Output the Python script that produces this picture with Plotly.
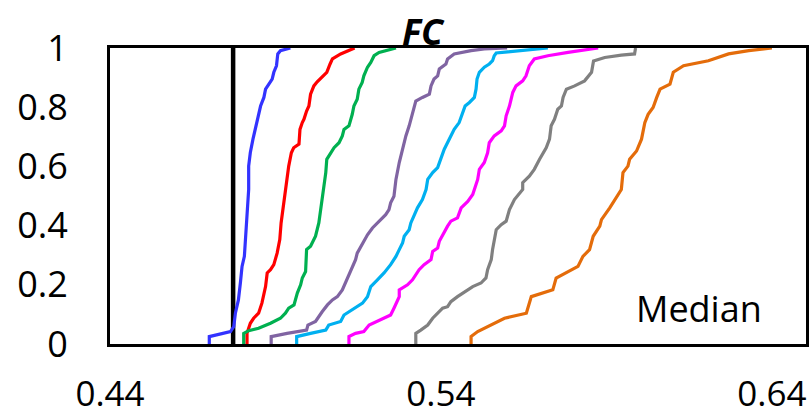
import plotly.graph_objects as go

# ---------------- data ----------------
blue_x = [0.4700, 0.4700, 0.4764, 0.4774, 0.4779, 0.4788, 0.4794, 0.4799, 0.4806, 0.4809,
          0.4814, 0.4819, 0.4819, 0.4824, 0.4832, 0.4839, 0.4846, 0.4855, 0.4865, 0.4870,
          0.4880, 0.4890, 0.4895, 0.4903, 0.4907, 0.4915, 0.4945]
blue_y = [0.000, 0.025, 0.042, 0.059, 0.105, 0.149, 0.207, 0.262, 0.296, 0.353,
          0.432, 0.522, 0.601, 0.647, 0.692, 0.725, 0.759, 0.804, 0.833, 0.861,
          0.878, 0.895, 0.918, 0.940, 0.980, 0.991, 1.000]

red_x = [0.4814, 0.4814, 0.4824, 0.4834, 0.4849, 0.4859, 0.4870, 0.4875, 0.4885, 0.4895,
         0.4905, 0.4913, 0.4917, 0.4923, 0.4930, 0.4933, 0.4940, 0.4948, 0.4955, 0.4971,
         0.4974, 0.4981, 0.4986, 0.4994, 0.5001, 0.5006, 0.5016, 0.5026, 0.5041, 0.5055,
         0.5065, 0.5072, 0.5097, 0.5122, 0.5139]
red_y = [0.000, 0.036, 0.070, 0.087, 0.104, 0.138, 0.194, 0.240, 0.251, 0.268,
         0.307, 0.353, 0.409, 0.465, 0.522, 0.556, 0.601, 0.646, 0.663, 0.675,
         0.725, 0.748, 0.759, 0.787, 0.804, 0.844, 0.872, 0.886, 0.901, 0.918,
         0.946, 0.963, 0.980, 0.991, 1.000]

green_x = [0.4804, 0.4804, 0.4819, 0.4849, 0.4885, 0.4915, 0.4930, 0.4940, 0.4956, 0.4966,
           0.4976, 0.4981, 0.4991, 0.4994, 0.5006, 0.5021, 0.5031, 0.5038, 0.5044, 0.5052,
           0.5055, 0.5067, 0.5077, 0.5092, 0.5102, 0.5107, 0.5122, 0.5132, 0.5137, 0.5147,
           0.5152, 0.5162, 0.5167, 0.5178, 0.5188, 0.5198, 0.5213, 0.5264]
green_y = [0.000, 0.036, 0.045, 0.053, 0.070, 0.087, 0.104, 0.121, 0.132, 0.172,
           0.200, 0.223, 0.245, 0.319, 0.330, 0.364, 0.409, 0.465, 0.522, 0.579,
           0.624, 0.646, 0.663, 0.680, 0.703, 0.725, 0.737, 0.776, 0.804, 0.827,
           0.861, 0.884, 0.906, 0.935, 0.951, 0.974, 0.985, 1.000]

purple_x = [0.4887, 0.4887, 0.4935, 0.4994, 0.4998, 0.5021, 0.5041, 0.5057, 0.5072, 0.5087,
            0.5102, 0.5122, 0.5132, 0.5142, 0.5147, 0.5158, 0.5178, 0.5193, 0.5213, 0.5233,
            0.5243, 0.5248, 0.5258, 0.5264, 0.5274, 0.5284, 0.5294, 0.5304, 0.5314, 0.5324,
            0.5344, 0.5365, 0.5370, 0.5379, 0.5390, 0.5395, 0.5415, 0.5420, 0.5440, 0.5461,
            0.5491, 0.5531, 0.5600]
purple_y = [0.000, 0.025, 0.036, 0.047, 0.064, 0.076, 0.109, 0.132, 0.149, 0.160,
            0.183, 0.234, 0.258, 0.285, 0.307, 0.330, 0.369, 0.392, 0.415, 0.437,
            0.454, 0.477, 0.499, 0.556, 0.613, 0.658, 0.703, 0.737, 0.782, 0.821,
            0.833, 0.844, 0.872, 0.895, 0.906, 0.929, 0.946, 0.963, 0.980, 0.985,
            0.991, 0.997, 1.000]

lightblue_x = [0.4964, 0.4964, 0.5006, 0.5052, 0.5061, 0.5097, 0.5107, 0.5137, 0.5163, 0.5178,
               0.5188, 0.5208, 0.5228, 0.5248, 0.5264, 0.5274, 0.5284, 0.5289, 0.5304, 0.5309,
               0.5321, 0.5329, 0.5344, 0.5355, 0.5360, 0.5375, 0.5390, 0.5400, 0.5410, 0.5425,
               0.5440, 0.5455, 0.5466, 0.5473, 0.5486, 0.5501, 0.5506, 0.5509, 0.5516, 0.5531,
               0.5546, 0.5556, 0.5561, 0.5567, 0.5602, 0.5642, 0.5682, 0.5723]
lightblue_y = [0.000, 0.025, 0.036, 0.047, 0.064, 0.076, 0.098, 0.119, 0.138, 0.160,
               0.194, 0.217, 0.240, 0.268, 0.296, 0.319, 0.341, 0.364, 0.386, 0.409,
               0.437, 0.460, 0.488, 0.522, 0.556, 0.579, 0.596, 0.624, 0.658, 0.692,
               0.725, 0.748, 0.787, 0.804, 0.816, 0.833, 0.861, 0.895, 0.918, 0.935,
               0.946, 0.957, 0.974, 0.983, 0.987, 0.991, 0.994, 1.000]

magenta_x = [0.5122, 0.5122, 0.5142, 0.5167, 0.5183, 0.5208, 0.5228, 0.5248, 0.5258, 0.5274,
             0.5274, 0.5299, 0.5314, 0.5334, 0.5349, 0.5370, 0.5375, 0.5390, 0.5395, 0.5405,
             0.5420, 0.5430, 0.5450, 0.5461, 0.5481, 0.5496, 0.5511, 0.5516, 0.5531, 0.5541,
             0.5546, 0.5561, 0.5582, 0.5592, 0.5597, 0.5607, 0.5617, 0.5627, 0.5647, 0.5657,
             0.5667, 0.5682, 0.5723, 0.5784, 0.5834, 0.5875]
magenta_y = [0.000, 0.025, 0.036, 0.042, 0.064, 0.076, 0.087, 0.098, 0.121, 0.160,
             0.183, 0.200, 0.217, 0.251, 0.268, 0.285, 0.313, 0.324, 0.347, 0.369,
             0.398, 0.415, 0.426, 0.460, 0.482, 0.505, 0.556, 0.590, 0.613, 0.646,
             0.680, 0.703, 0.720, 0.737, 0.771, 0.804, 0.850, 0.872, 0.889, 0.906,
             0.940, 0.963, 0.974, 0.985, 0.993, 1.000]

gray_x = [0.5324, 0.5324, 0.5339, 0.5360, 0.5375, 0.5390, 0.5405, 0.5420, 0.5430, 0.5450,
          0.5471, 0.5496, 0.5521, 0.5536, 0.5541, 0.5552, 0.5556, 0.5561, 0.5567, 0.5582,
          0.5597, 0.5607, 0.5622, 0.5647, 0.5647, 0.5667, 0.5682, 0.5698, 0.5708, 0.5718,
          0.5728, 0.5733, 0.5743, 0.5753, 0.5764, 0.5769, 0.5779, 0.5804, 0.5834, 0.5855,
          0.5861, 0.5895, 0.5945, 0.5985, 0.5988]
gray_y = [0.000, 0.036, 0.047, 0.064, 0.087, 0.104, 0.121, 0.126, 0.143, 0.160,
          0.177, 0.194, 0.206, 0.223, 0.251, 0.285, 0.319, 0.353, 0.386, 0.403,
          0.415, 0.454, 0.488, 0.522, 0.545, 0.567, 0.590, 0.624, 0.646, 0.663,
          0.692, 0.737, 0.759, 0.793, 0.804, 0.833, 0.861, 0.872, 0.889, 0.918,
          0.956, 0.968, 0.976, 0.980, 1.000]

orange_x = [0.5491, 0.5491, 0.5511, 0.5541, 0.5572, 0.5592, 0.5658, 0.5673, 0.5738, 0.5748,
            0.5814, 0.5829, 0.5849, 0.5860, 0.5880, 0.5885, 0.5910, 0.5930, 0.5945, 0.5950,
            0.5965, 0.5970, 0.5991, 0.6006, 0.6016, 0.6026, 0.6041, 0.6052, 0.6062, 0.6092,
            0.6102, 0.6133, 0.6208, 0.6269, 0.6330, 0.6400]
orange_y = [0.000, 0.025, 0.042, 0.059, 0.076, 0.087, 0.104, 0.160, 0.183, 0.223,
            0.262, 0.296, 0.319, 0.364, 0.398, 0.420, 0.460, 0.494, 0.522, 0.579,
            0.601, 0.624, 0.652, 0.692, 0.748, 0.776, 0.799, 0.833, 0.861, 0.878,
            0.918, 0.940, 0.957, 0.980, 0.991, 1.000]

median_ref_x = 0.4772
median_ref_y = [0, 1]

title_text = "FC"
label_text = "Median"
x_tick_vals = [0.44, 0.54, 0.64]
y_tick_vals = [0, 0.2, 0.4, 0.6, 0.8, 1]
y_tick_text = ["0", "0.2", "0.4", "0.6", "0.8", "1"]

series = [
    (blue_x, blue_y, "#3333FF"),
    (red_x, red_y, "#FF0000"),
    (green_x, green_y, "#00B050"),
    (purple_x, purple_y, "#8064A2"),
    (lightblue_x, lightblue_y, "#00B0F0"),
    (magenta_x, magenta_y, "#FF00FF"),
    (gray_x, gray_y, "#808080"),
    (orange_x, orange_y, "#E46C0A"),
]

FONT = "Open Sans, Noto Sans, sans-serif"

fig = go.Figure()

fig.add_trace(go.Scatter(x=[median_ref_x, median_ref_x], y=median_ref_y, mode="lines",
                         line=dict(color="black", width=4.5), showlegend=False,
                         hoverinfo="skip"))

for xs, ys, col in series:
    fig.add_trace(go.Scatter(x=xs, y=ys, mode="lines",
                             line=dict(color=col, width=3.2), showlegend=False))

fig.update_layout(
    width=811, height=416,
    margin=dict(l=110, r=5, t=48, b=72, autoexpand=False),
    paper_bgcolor="white", plot_bgcolor="white",
    font=dict(family=FONT, color="black", size=36),
    showlegend=False,
)

fig.update_xaxes(range=[0.44, 0.6503], tickvals=x_tick_vals,
                 ticktext=[f"{v:.2f}" for v in x_tick_vals],
                 showgrid=False, zeroline=False, showline=True, mirror=True,
                 linecolor="black", linewidth=3, ticks="", ticklabelstandoff=17,
                 automargin=False,
                 layer="below traces", tickfont=dict(size=35, family=FONT))
fig.update_yaxes(range=[0, 1], tickvals=y_tick_vals, ticktext=y_tick_text,
                 showgrid=False, zeroline=False, showline=True, mirror=True,
                 linecolor="black", linewidth=3, ticks="", ticklabelstandoff=32,
                 automargin=False,
                 layer="below traces", tickfont=dict(size=36, family=FONT))

fig.add_annotation(text=f"<b><i>{title_text}</i></b>", xref="paper", yref="paper",
                   x=0.45, y=1.057, xanchor="center", yanchor="middle",
                   showarrow=False, font=dict(size=36, family=FONT, color="black"))
fig.add_annotation(text=label_text, xref="paper", yref="paper",
                   x=0.846, y=0.12, xanchor="center", yanchor="middle",
                   showarrow=False, font=dict(size=36, family=FONT, color="black"))

fig.write_html("out.html", config={"displayModeBar": False},
               post_script="document.body.style.margin='0';document.body.style.padding='0';")
